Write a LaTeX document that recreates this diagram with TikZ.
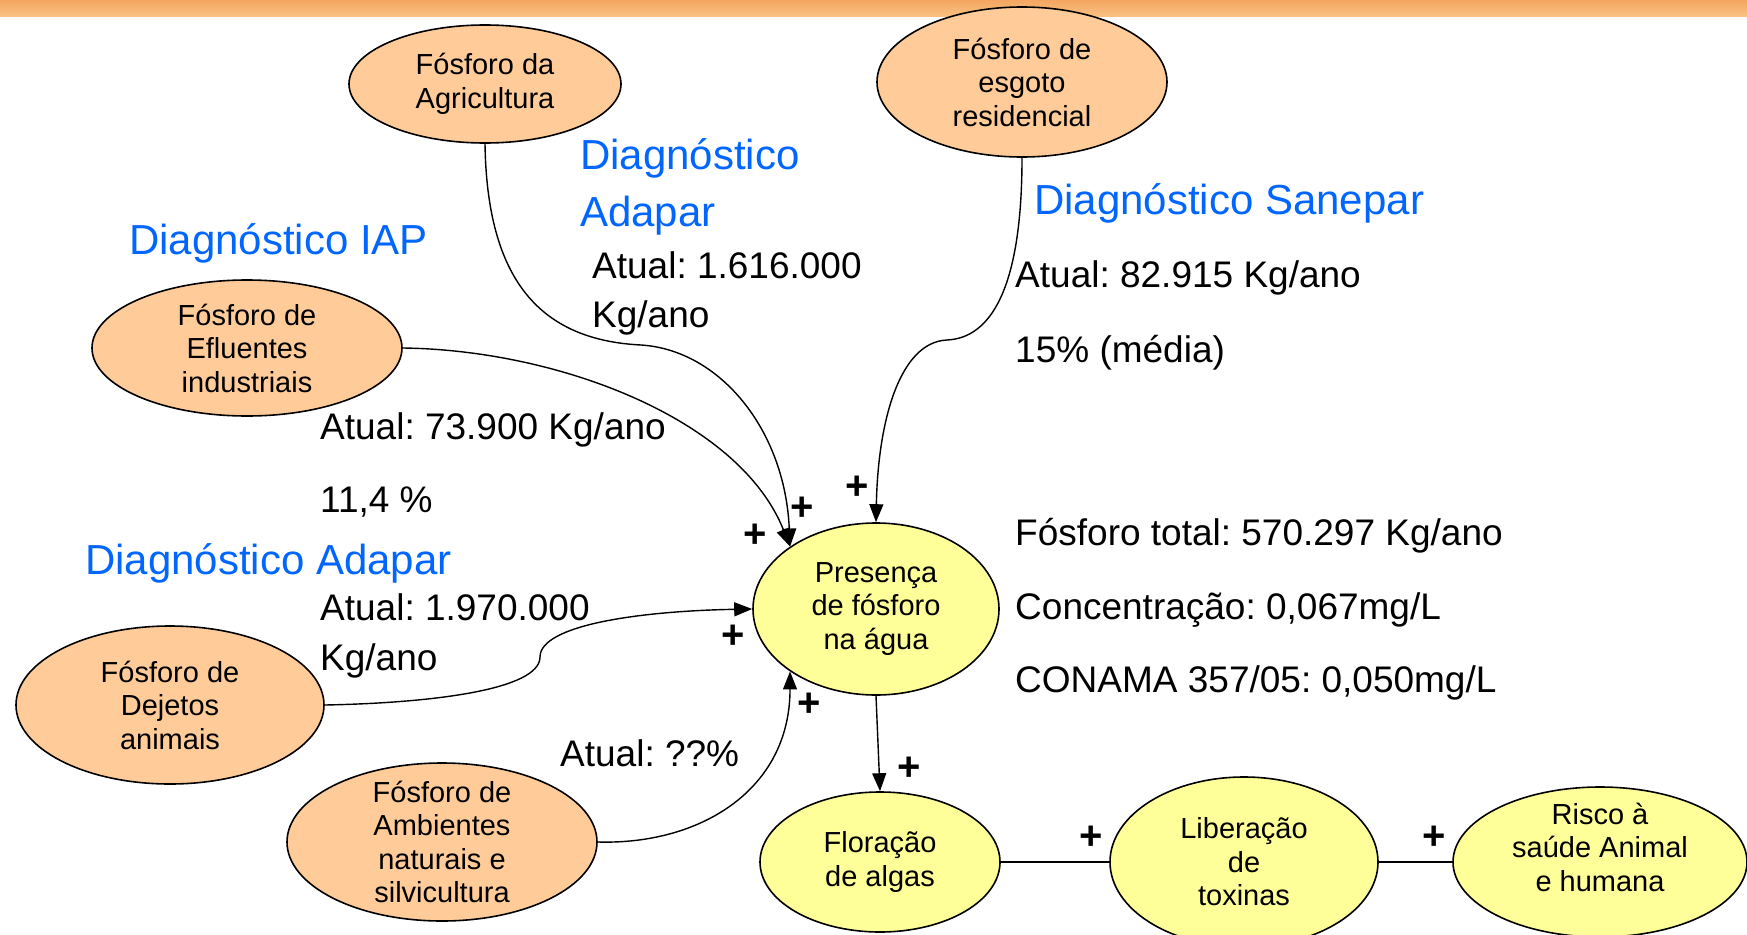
\documentclass[tikz,border=0pt]{standalone}
\usepackage{fontspec}
\setmainfont{Liberation Sans}
\usetikzlibrary{shapes.geometric,arrows.meta}
\definecolor{Ofill}{RGB}{255,204,153}
\definecolor{Yfill}{RGB}{255,255,153}
\definecolor{Dblue}{RGB}{0,102,255}
\definecolor{BarTop}{RGB}{244,166,98}
\definecolor{BarBot}{RGB}{250,194,130}
\frenchspacing

\begin{document}
\begin{tikzpicture}[x=1pt,y=-1pt,line cap=round,line join=round,
  src/.style={ellipse,draw,line width=1.6pt,fill=Ofill,inner sep=0pt,align=center,font=\fontsize{29}{33.5}\selectfont},
  stock/.style={src,fill=Yfill},
  txt/.style={anchor=base west,inner sep=0pt,font=\fontsize{37}{44}\selectfont},
  diag/.style={txt,text=Dblue,font=\fontsize{42}{50}\selectfont},
  sign/.style={inner sep=0pt,font=\bfseries\fontsize{40}{40}\selectfont},
  link/.style={line width=1.4pt,-{Triangle[length=18pt,width=14pt]}}]
\path[use as bounding box] (0,0) rectangle (1747,934);
\shade[top color=BarTop,bottom color=BarBot] (0,0) rectangle (1747,17);
\node[src,minimum width=272pt,minimum height=118pt] (agri) at (485,84) {Fósforo da\\Agricultura};
\node[src,minimum width=290pt,minimum height=150pt] (esgoto) at (1022,82) {Fósforo de\\esgoto\\residencial};
\node[src,minimum width=310pt,minimum height=136pt] (eflu) at (247,348) {Fósforo de\\Efluentes\\industriais};
\node[src,minimum width=308pt,minimum height=158pt] (dejetos) at (170,705) {Fósforo de\\Dejetos\\animais};
\node[src,inner ysep=-15pt,minimum width=310pt,minimum height=158pt] (ambient) at (442,842) {Fósforo de\\Ambientes\\naturais e\\silvicultura};
\node[stock,minimum width=246pt,minimum height=172pt] (presenca) at (876,609) {Presença\\de fósforo\\na água};
\node[stock,minimum width=240pt,minimum height=140pt] (floracao) at (880,862) {Floração\\de algas};
\node[stock,minimum width=268pt,minimum height=170pt] (toxinas) at (1244,862) {Liberação\\de\\toxinas};
\node[stock,minimum width=294pt,minimum height=150pt] (risco) at (1600,862) {};
\node[align=center,inner sep=0pt,font=\fontsize{29}{33.5}\selectfont] (riscoTxt) at (1600,847) {Risco à\\saúde Animal\\e humana};
\coordinate (agriBend) at (641,345);
\coordinate (esgBend) at (947,340);
\coordinate (dejBend) at (540,657);
\draw[link] (agri.south) .. controls (487,280) and (540,340) .. (agriBend) .. controls (720,350) and (785,430) .. (presenca.144);
\draw[link] (eflu.east) .. controls (560,350) and (740,420) .. (presenca.144);
\draw[link] (esgoto.south) .. controls (1022,290) and (990,338) .. (esgBend) .. controls (900,342) and (878,420) .. (presenca.north);
\draw[link] (dejetos.east) .. controls (430,703) and (540,690) .. (dejBend) .. controls (540,625) and (640,611) .. (presenca.west);
\draw[link] (ambient.east) .. controls (700,845) and (790,790) .. (presenca.216);
\draw[link] (presenca.south) -- (floracao.north);
\draw[line width=1.4pt] (floracao.east) -- (toxinas.west);
\draw[line width=1.4pt] (toxinas.east) -- (risco.west);
\node[sign] (p1) at (755,536) {+};
\node[sign] (p2) at (802,509) {+};
\node[sign] (p3) at (857,488) {+};
\node[sign] (p4) at (733,637) {+};
\node[sign] (p5) at (809,705) {+};
\node[sign] (p6) at (909,769) {+};
\node[sign] (p7) at (1091,838) {+};
\node[sign] (p8) at (1434,838) {+};
\node[diag] (diagIAP) at (129,254) {Diagnóstico IAP};
\node[diag] (diagAgr) at (580,169) {Diagnóstico};
\node[diag] (diagAgr2) at (580,226) {Adapar};
\node[txt] (agrAtual) at (592,278) {Atual: 1.616.000};
\node[txt] (agrUnid) at (592,327) {Kg/ano};
\node[diag] (diagSan) at (1034,214) {Diagnóstico Sanepar};
\node[txt] (sanAtual) at (1015,287) {Atual: 82.915 Kg/ano};
\node[txt] (sanPerc) at (1015,362) {15\% (média)};
\node[txt] (eflAtual) at (320,439) {Atual: 73.900 Kg/ano};
\node[txt] (eflPerc) at (320,512) {11,4 \%};
\node[diag] (diagDej) at (85,574) {Diagnóstico Adapar};
\node[txt] (dejAtual) at (320,620) {Atual: 1.970.000};
\node[txt] (dejUnid) at (320,670) {Kg/ano};
\node[txt] (ambAtual) at (560,766) {Atual: ??\%};
\node[txt] (totFos) at (1015,545) {Fósforo total: 570.297 Kg/ano};
\node[txt] (totConc) at (1015,619) {Concentração: 0,067mg/L};
\node[txt] (totLim) at (1015,692) {CONAMA 357/05: 0,050mg/L};
\end{tikzpicture}
\end{document}
